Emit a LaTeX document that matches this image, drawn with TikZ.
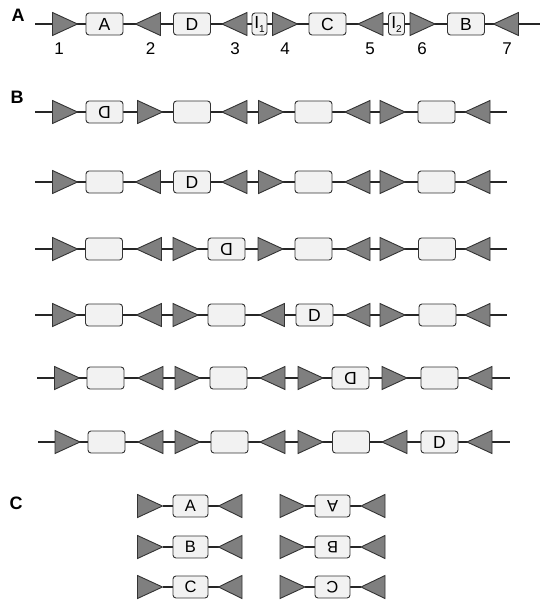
\documentclass[tikz,border=0pt]{standalone}
\usepackage{fontspec}
\usepackage{graphicx}
\setmainfont{Liberation Sans}
\definecolor{trifill}{HTML}{7F7F7F}
\definecolor{edge}{HTML}{333333}
\definecolor{boxfill}{HTML}{F2F2F2}
\tikzset{
  tri/.style={fill=trifill,draw=edge,line width=0.9pt,line join=miter},
  bb/.style={draw=black!85,line width=1.3pt},
  gbox/.style={draw=edge,fill=boxfill,line width=0.9pt,rounded corners=3pt,minimum width=37pt,minimum height=22pt,inner sep=0pt,font=\fontsize{17.5}{17.5}\selectfont},
  ibox/.style={gbox,minimum width=15pt},
  num/.style={font=\fontsize{17}{17}\selectfont},
  panel/.style={font=\fontsize{18}{18}\selectfont\bfseries}
}
\newcommand\triR[2]{\draw[tri] (#1-12.5,#2-11.5) -- (#1+12.5,#2) -- (#1-12.5,#2+11.5) -- cycle;}
\newcommand\triL[2]{\draw[tri] (#1+12.5,#2-11.5) -- (#1-12.5,#2) -- (#1+12.5,#2+11.5) -- cycle;}
\newcommand\mirD{\reflectbox{D}}
\begin{document}
\begin{tikzpicture}[x=1pt,y=-1pt]
\useasboundingbox (0,0) rectangle (542,600);
% panel labels
\node[panel] (pA) at (18,15) {A};
\node[panel] (pB) at (17,97) {B};
\node[panel] (pC) at (16,503) {C};
% ---------- Panel A ----------
\coordinate (a0) at (35,24); \coordinate (a1) at (540,24);
\draw[bb] (a0) -- (a1);
\triR{65}{24} \node[gbox] (aA) at (104.5,24) {A};
\triL{148}{24} \node[gbox] (aD) at (192,24) {D};
\triL{234.5}{24} \node[ibox] (aI1) at (259.5,24) {I\raisebox{-4pt}{\fontsize{10}{10}\selectfont 1}};
\triR{285}{24} \node[gbox] (aC) at (327.5,24) {C};
\triL{370.5}{24} \node[ibox,minimum width=16pt] (aI2) at (396.5,24) {I\raisebox{-4pt}{\fontsize{10}{10}\selectfont 2}};
\triR{422.5}{24} \node[gbox] (aB) at (466,24) {B};
\triL{506}{24}
\node[num] (n1) at (59,49) {1};
\node[num] (n2) at (150.5,49) {2};
\node[num] (n3) at (235,49) {3};
\node[num] (n4) at (285,49) {4};
\node[num] (n5) at (370,49) {5};
\node[num] (n6) at (422,49) {6};
\node[num] (n7) at (507,49) {7};
% ---------- Panel B ----------
% row 1
\coordinate (b1s) at (35,112); \coordinate (b1e) at (507,112);
\draw[bb] (b1s) -- (b1e);
\triR{65}{112} \node[gbox] (b1a) at (104.5,112) {\mirD};
\triR{150}{112} \node[gbox] (b1b) at (192,112) {};
\triL{234.5}{112} \triR{271}{112} \node[gbox] (b1c) at (313.5,112) {};
\triL{357.5}{112} \triR{392.5}{112} \node[gbox] (b1d) at (436.5,112) {};
\triL{477.5}{112}
% row 2
\coordinate (b2s) at (35,182); \coordinate (b2e) at (507,182);
\draw[bb] (b2s) -- (b2e);
\triR{65}{182} \node[gbox] (b2a) at (104.5,182) {};
\triL{148}{182} \node[gbox] (b2b) at (192,182) {D};
\triL{234.5}{182} \triR{271}{182} \node[gbox] (b2c) at (313.5,182) {};
\triL{357.5}{182} \triR{392.5}{182} \node[gbox] (b2d) at (436.5,182) {};
\triL{477.5}{182}
% row 3
\coordinate (b3s) at (35,249); \coordinate (b3e) at (507,249);
\draw[bb] (b3s) -- (b3e);
\triR{65}{249} \node[gbox] (b3a) at (104,249) {};
\triL{149}{249} \triR{185.5}{249} \node[gbox] (b3b) at (226.5,249) {\mirD};
\triR{270.5}{249} \node[gbox] (b3c) at (313.5,249) {};
\triL{357.5}{249} \triR{392.5}{249} \node[gbox] (b3d) at (437,249) {};
\triL{477.5}{249}
% row 4
\coordinate (b4s) at (35,315); \coordinate (b4e) at (507,315);
\draw[bb] (b4s) -- (b4e);
\triR{65}{315} \node[gbox] (b4a) at (104,315) {};
\triL{149}{315} \triR{185.5}{315} \node[gbox] (b4b) at (226.5,315) {};
\triL{272}{315} \node[gbox] (b4c) at (314.5,315) {D};
\triL{357.5}{315} \triR{392.5}{315} \node[gbox] (b4d) at (437.5,315) {};
\triL{477.5}{315}
% row 5
\coordinate (b5s) at (37,378); \coordinate (b5e) at (510,378);
\draw[bb] (b5s) -- (b5e);
\triR{67}{378} \node[gbox] (b5a) at (105.5,378) {};
\triL{150.5}{378} \triR{187.5}{378} \node[gbox] (b5b) at (228.5,378) {};
\triL{272.5}{378} \triR{310.5}{378} \node[gbox] (b5c) at (350.5,378) {\mirD};
\triR{394.5}{378} \node[gbox] (b5d) at (439.5,378) {};
\triL{479.5}{378}
% row 6
\coordinate (b6s) at (38,442); \coordinate (b6e) at (510,442);
\draw[bb] (b6s) -- (b6e);
\triR{67.5}{442} \node[gbox] (b6a) at (106.5,442) {};
\triL{150.5}{442} \triR{187.5}{442} \node[gbox] (b6b) at (229.5,442) {};
\triL{272.5}{442} \triR{310.5}{442} \node[gbox] (b6c) at (351,442) {};
\triL{394.5}{442} \node[gbox] (b6d) at (439.5,442) {D};
\triL{479.5}{442}
% ---------- Panel C ----------
\foreach \yy/\lt [count=\i] in {506/A,547/B,587/C}{
  \coordinate (cl\i s) at (162.5,\yy); \coordinate (cl\i e) at (218.5,\yy);
  \draw[bb] (cl\i s) -- (cl\i e);
  \draw[tri] (137.5,\yy-11.5) -- (162.5,\yy) -- (137.5,\yy+11.5) -- cycle;
  \draw[tri] (242,\yy-11.5) -- (218.5,\yy) -- (242,\yy+11.5) -- cycle;
  \node[gbox,minimum width=35pt,font=\fontsize{16.5}{16.5}\selectfont] (cl\i) at (190.5,\yy) {\lt};
  \coordinate (cr\i s) at (305,\yy); \coordinate (cr\i e) at (361,\yy);
  \draw[bb] (cr\i s) -- (cr\i e);
  \draw[tri] (280,\yy-11.5) -- (305,\yy) -- (280,\yy+11.5) -- cycle;
  \draw[tri] (385,\yy-11.5) -- (361,\yy) -- (385,\yy+11.5) -- cycle;
  \node[gbox,minimum width=35pt,font=\fontsize{16.5}{16.5}\selectfont] (cr\i) at (332.5,\yy) {\rotatebox[origin=c]{180}{\lt}};
}
\end{tikzpicture}
\end{document}
